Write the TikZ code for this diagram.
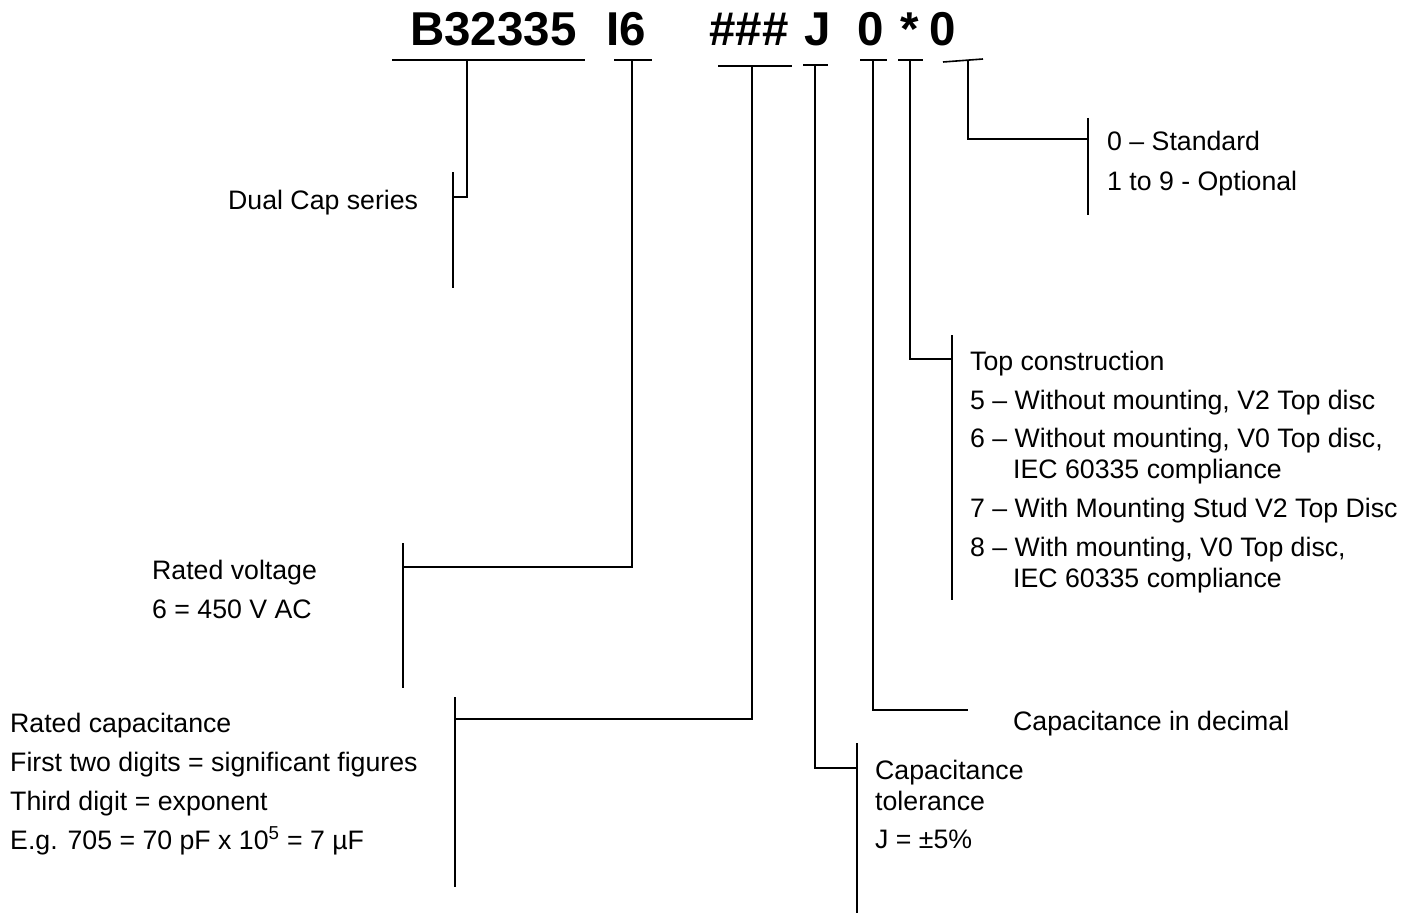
\documentclass[tikz,border=0pt]{standalone}
\usepackage{fontspec}
\setmainfont{Liberation Sans}
\begin{document}
\begin{tikzpicture}[x=1pt,y=-1pt,
  lbl/.style={anchor=base west,inner sep=0pt,font=\fontsize{26.7}{30}\selectfont},
  ttl/.style={anchor=base west,inner sep=0pt,font=\fontsize{47.5}{50}\selectfont\bfseries},
  ln/.style={line width=1.6pt}]
\useasboundingbox (0,0) rectangle (1419,915);
% title
\node[ttl] (t1) at (410,46) {B32335};
\node[ttl] (t2) at (606,46) {I6};
\node[ttl] (t3) at (709,46) {\#\#\#};
\node[ttl] (t4) at (804,46) {J};
\node[ttl] (t5) at (857,46) {0};
\node[ttl] (t6) at (900,46) {*};
\node[ttl] (t7) at (929,46) {0};
% coordinates
\coordinate (bA) at (392,60); \coordinate (bB) at (585,60);
\coordinate (bC) at (467,60); \coordinate (bD) at (453,197);
\coordinate (bE) at (453,172); \coordinate (bF) at (453,288);
\coordinate (iA) at (614,60); \coordinate (iB) at (652,60);
\coordinate (iC) at (632,60); \coordinate (iD) at (403,567);
\coordinate (iE) at (403,543); \coordinate (iF) at (403,688);
\coordinate (hA) at (718,66); \coordinate (hB) at (792,66);
\coordinate (hC) at (752,66); \coordinate (hD) at (455,719);
\coordinate (hE) at (455,697); \coordinate (hF) at (455,887);
\coordinate (jA) at (803,65); \coordinate (jB) at (828,65);
\coordinate (jC) at (815,65); \coordinate (jD) at (857,768);
\coordinate (jE) at (857,743); \coordinate (jF) at (857,913);
\coordinate (zA) at (860,60); \coordinate (zB) at (887,60);
\coordinate (zC) at (873,60); \coordinate (zD) at (968,710);
\coordinate (sA) at (898,60); \coordinate (sB) at (923,60);
\coordinate (sC) at (910,60); \coordinate (sD) at (952,359);
\coordinate (sE) at (952,335); \coordinate (sF) at (952,600);
\coordinate (lA) at (943,62); \coordinate (lB) at (983,59);
\coordinate (lC) at (968,60); \coordinate (lD) at (1088,139);
\coordinate (lE) at (1088,118); \coordinate (lF) at (1088,215);
% connectors
\draw[ln] (bA) -- (bB);
\draw[ln] (bC) |- (bD);
\draw[ln] (bE) -- (bF);
\draw[ln] (iA) -- (iB);
\draw[ln] (iC) |- (iD);
\draw[ln] (iE) -- (iF);
\draw[ln] (hA) -- (hB);
\draw[ln] (hC) |- (hD);
\draw[ln] (hE) -- (hF);
\draw[ln] (jA) -- (jB);
\draw[ln] (jC) |- (jD);
\draw[ln] (jE) -- (jF);
\draw[ln] (zA) -- (zB);
\draw[ln] (zC) |- (zD);
\draw[ln] (sA) -- (sB);
\draw[ln] (sC) |- (sD);
\draw[ln] (sE) -- (sF);
\draw[ln] (lA) -- (lB);
\draw[ln] (lC) |- (lD);
\draw[ln] (lE) -- (lF);
% labels
\node[lbl] (dual) at (228,209) {Dual Cap series};
\node[lbl] (rv1) at (152,579) {Rated voltage};
\node[lbl] (rv2) at (152,618) {6 = 450 V AC};
\node[lbl] (rc1) at (10,732) {Rated capacitance};
\node[lbl] (rc2) at (10,771) {First two digits = significant figures};
\node[lbl] (rc3) at (10,810) {Third digit = exponent};
\node[lbl] (rc4) at (10,849) {E.g. 705 = 70 pF x 10\textsuperscript{5} = 7 µF};
\node[lbl] (ct1) at (875,779) {Capacitance};
\node[lbl] (ct2) at (875,810) {tolerance};
\node[lbl] (ct3) at (875,848) {J = ±5\%};
\node[lbl] (cd) at (1013,730) {Capacitance in decimal};
\node[lbl] (tc0) at (970,370) {Top construction};
\node[lbl] (tc1) at (970,409) {5 – Without mounting, V2 Top disc};
\node[lbl] (tc2) at (970,447) {6 – Without mounting, V0 Top disc,};
\node[lbl] (tc3) at (1013,478) {IEC 60335 compliance};
\node[lbl] (tc4) at (970,517) {7 – With Mounting Stud V2 Top Disc};
\node[lbl] (tc5) at (970,556) {8 – With mounting, V0 Top disc,};
\node[lbl] (tc6) at (1013,587) {IEC 60335 compliance};
\node[lbl] (st1) at (1107,151) {0 – Standard};
\node[lbl] (st2) at (1107,190) {1 to 9 - Optional};
\end{tikzpicture}
\end{document}
